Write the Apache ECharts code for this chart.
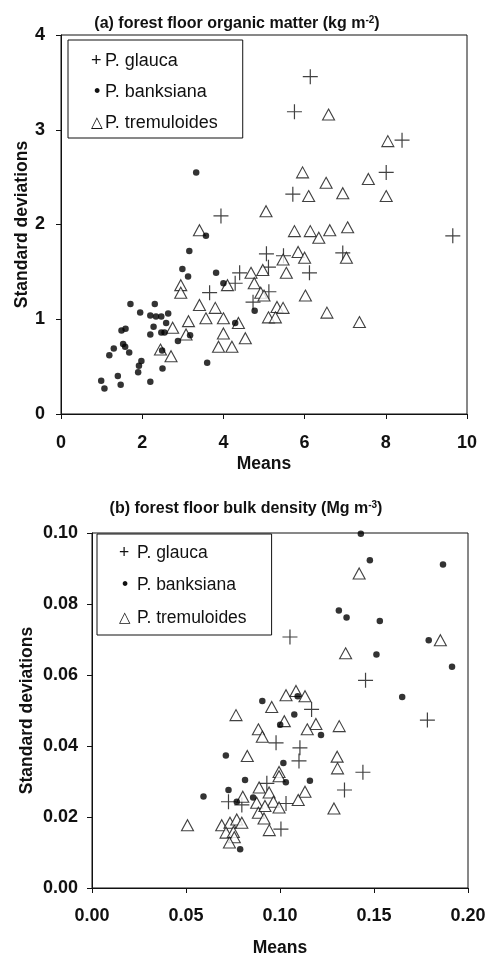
<!DOCTYPE html>
<html>
<head>
<meta charset="utf-8">
<script src="https://cdn.jsdelivr.net/npm/echarts@6/dist/echarts.min.js"></script>
<style>
  html, body { margin: 0; padding: 0; background: #fff; }
  #chart { width: 486px; height: 956px; }
</style>
</head>
<body>
<div id="chart"></div>
<script>
// (a) forest floor organic matter: [mean, sd]
var glaucaA = [[6.14,3.56],[5.75,3.19],[8.40,2.89],[8.01,2.55],[5.71,2.32],[3.94,2.09],[9.65,1.88],[5.06,1.69],[5.48,1.67],[6.94,1.70],[6.12,1.49],[4.40,1.49],[5.11,1.55],[3.66,1.28],[5.12,1.29],[4.73,1.18],[4.29,1.38]]
var banksianaA = [[3.33,2.55],[3.57,1.88],[3.16,1.72],[2.99,1.53],[3.13,1.45],[3.82,1.49],[4.00,1.38],[1.71,1.16],[2.31,1.16],[4.77,1.09],
  [1.95,1.07],[2.20,1.04],[2.34,1.03],[2.47,1.03],[2.64,1.06],[2.59,0.96],[2.28,0.92],[1.49,0.88],[1.59,0.90],[2.20,0.84],
  [2.47,0.86],[2.55,0.86],[3.18,0.83],[2.88,0.77],[1.30,0.69],[1.19,0.62],[1.53,0.74],[1.58,0.71],[1.68,0.65],[2.49,0.67],
  [1.98,0.56],[1.92,0.51],[1.90,0.44],[2.50,0.48],[3.60,0.54],[1.40,0.40],[0.99,0.35],[1.47,0.31],[1.07,0.27],[2.20,0.34],[4.29,0.96]]
var tremuloidesA = [[6.59,3.16],[8.05,2.88],[5.95,2.55],[6.53,2.44],[7.57,2.48],[6.10,2.30],[6.94,2.33],[8.01,2.30],[5.05,2.14],[3.41,1.94],
  [5.75,1.93],[6.14,1.93],[6.35,1.86],[6.62,1.94],[7.06,1.97],[5.84,1.71],[5.47,1.63],[6.00,1.65],[7.03,1.65],[4.68,1.49],
  [4.97,1.52],[5.55,1.49],[4.76,1.38],[4.10,1.36],[2.95,1.36],[2.95,1.28],[4.92,1.28],[5.00,1.25],[6.02,1.25],[3.41,1.15],
  [3.80,1.12],[5.32,1.13],[5.47,1.12],[6.55,1.07],[7.35,0.97],[2.75,0.91],[3.14,0.98],[3.57,1.01],[4.00,1.01],[3.08,0.84],
  [4.00,0.85],[4.37,0.96],[4.54,0.80],[3.88,0.71],[4.21,0.71],[2.45,0.68],[2.71,0.61],[5.11,1.02],[5.28,1.02]]

// (b) forest floor bulk density: [mean, sd]
var glaucaB = [[0.1053,0.0707],[0.1455,0.0585],[0.1784,0.0473],[0.1168,0.0503],[0.0979,0.0409],[0.1106,0.0395],[0.1101,0.0358],
  [0.1441,0.0326],[0.1343,0.0276],[0.0726,0.0243],[0.0797,0.0234],[0.0930,0.0295],[0.1032,0.0238],[0.1005,0.0166]]
var banksianaB = [[0.1430,0.0998],[0.1478,0.0923],[0.1867,0.0911],[0.1313,0.0782],[0.1354,0.0762],[0.1531,0.0752],[0.1791,0.0698],
  [0.1513,0.0658],[0.1915,0.0623],[0.1650,0.0538],[0.0906,0.0527],[0.1076,0.0489],[0.1218,0.0431],[0.0712,0.0373],[0.1018,0.0352],
  [0.1031,0.0298],[0.0814,0.0304],[0.0726,0.0276],[0.0593,0.0258],[0.0857,0.0255],[0.0770,0.0243],[0.1159,0.0302],[0.0788,0.0109],
  [0.1001,0.0460],[0.1094,0.0540]]
var tremuloidesB = [[0.1421,0.0886],[0.1853,0.0698],[0.1349,0.0661],[0.1032,0.0543],[0.1085,0.0555],[0.1133,0.0540],[0.0956,0.0510],
  [0.0766,0.0487],[0.1023,0.0470],[0.1191,0.0462],[0.1315,0.0456],[0.0885,0.0447],[0.0906,0.0426],[0.1145,0.0447],[0.0826,0.0372],
  [0.1304,0.0370],[0.1306,0.0337],[0.1133,0.0271],[0.1097,0.0248],[0.1287,0.0224],[0.0995,0.0327],[0.0995,0.0315],[0.0889,0.0283],
  [0.0942,0.0269],[0.0802,0.0257],[0.0876,0.0240],[0.0965,0.0243],[0.0995,0.0227],[0.0885,0.0212],[0.0915,0.0196],[0.0943,0.0163],
  [0.0508,0.0177],[0.0690,0.0177],[0.0734,0.0184],[0.0770,0.0193],[0.0797,0.0184],[0.0713,0.0156],[0.0752,0.0158],[0.0757,0.0143],
  [0.0731,0.0128],[0.0920,0.0231]]

var species = ['P. glauca', 'P. banksiana', 'P. tremuloides']
var glyphs = { 'P. glauca': '{p|+}', 'P. banksiana': '{d|\u2022}', 'P. tremuloides': '{t|\u25B3}' }
var titleA = '(a) forest floor organic matter (kg m{sup|-2})'
var titleB = '(b) forest floor bulk density (Mg m{sup|-3})'

var font = 'Liberation Sans, Arial, sans-serif'
var ink = '#111'
var plus = 'path://M0,5L10,5M5,0L5,10'

function axis(grid, min, max, interval, digits, name, gap, labelMargin) {
  return {
    gridIndex: grid, type: 'value', min: min, max: max, interval: interval,
    name: name, nameLocation: 'middle', nameGap: gap, nameMoveOverlap: false,
    nameTextStyle: { fontFamily: font, fontWeight: 'bold', fontSize: 17.5, color: ink },
    axisLine: { show: true, lineStyle: { color: ink, width: 1 } },
    axisTick: { show: true, inside: false, length: 5, lineStyle: { color: ink } },
    axisLabel: {
      margin: labelMargin, fontFamily: font, fontWeight: 'bold', fontSize: 18, color: ink,
      formatter: function (v) { return v.toFixed(digits) }
    },
    splitLine: { show: false }
  }
}

// legend drawn as text glyphs, like the original
function legend(left, top, gap, pad, size, col) {
  var g = { width: col, align: 'left', fontFamily: font, fontSize: size, color: ink }
  return {
    left: left, top: top, orient: 'vertical', selectedMode: false,
    data: species, icon: 'none', itemWidth: 0, itemHeight: 14, itemGap: gap,
    padding: pad, borderColor: ink, borderWidth: 1,
    textStyle: {
      fontFamily: font, fontSize: size, color: ink,
      rich: {
        p: g,
        d: Object.assign({}, g, { padding: [0, 0, 0, 3], width: col - 3 }),
        t: Object.assign({}, g, { fontFamily: 'DejaVu Sans', fontSize: size * 0.85 }),
        n: { fontFamily: font, fontSize: size, color: ink }
      }
    },
    formatter: function (n) { return glyphs[n] + '{n|' + n + '}' }
  }
}

function scatter(name, data, x, y) {
  var s = { name: name, type: 'scatter', xAxisIndex: x, yAxisIndex: y, data: data, animation: false }
  if (name == 'P. glauca') {
    s.symbol = plus; s.symbolSize = 15
    s.itemStyle = { color: 'none', borderColor: ink, borderWidth: 1.2 }
  } else if (name == 'P. banksiana') {
    s.symbol = 'circle'; s.symbolSize = 6.5
    s.itemStyle = { color: '#000' }
  } else {
    s.symbol = 'triangle'; s.symbolSize = [12, 11]
    s.itemStyle = { color: '#fff', borderColor: ink, borderWidth: 1.1 }
  }
  return s
}

var chart = echarts.init(document.getElementById('chart'), null, { renderer: 'canvas' })
var titleStyle = {
  fontFamily: font, fontWeight: 'bold', fontSize: 16, color: ink,
  rich: { sup: { fontFamily: font, fontWeight: 'bold', fontSize: 10, color: ink, verticalAlign: 'bottom', padding: [0, 0, 8, 0] } }
}
chart.setOption({
  backgroundColor: '#fff',
  title: [
    { text: titleA, left: 232, top: 10, textAlign: 'center', textStyle: titleStyle },
    { text: titleB, left: 241, top: 495, textAlign: 'center', textStyle: titleStyle }
  ],
  legend: [
    legend(68, 40, 13, [12, 25, 6, 18], 18, 14),
    legend(97, 534, 14.5, [10, 25, 8, 17], 17.5, 18)
  ],
  grid: [
    { left: 61, right: 19, top: 35, height: 379, show: true, borderColor: ink, borderWidth: 1, outerBoundsMode: 'none' },
    { left: 92, right: 18, top: 533, height: 355, show: true, borderColor: ink, borderWidth: 1, outerBoundsMode: 'none' }
  ],
  xAxis: [
    axis(0, 0, 10, 2, 0, 'Means', 41, 20),
    axis(1, 0, 0.2, 0.05, 2, 'Means', 51, 19)
  ],
  yAxis: [
    axis(0, 0, 4, 1, 0, 'Standard deviations', 30, 16),
    axis(1, 0, 0.1, 0.02, 2, 'Standard deviations', 56, 14)
  ],
  series: [
    scatter('P. glauca', glaucaA, 0, 0),
    scatter('P. tremuloides', tremuloidesA, 0, 0),
    scatter('P. banksiana', banksianaA, 0, 0),
    scatter('P. glauca', glaucaB, 1, 1),
    scatter('P. tremuloides', tremuloidesB, 1, 1),
    scatter('P. banksiana', banksianaB, 1, 1)
  ]
})
</script>
</body>
</html>
